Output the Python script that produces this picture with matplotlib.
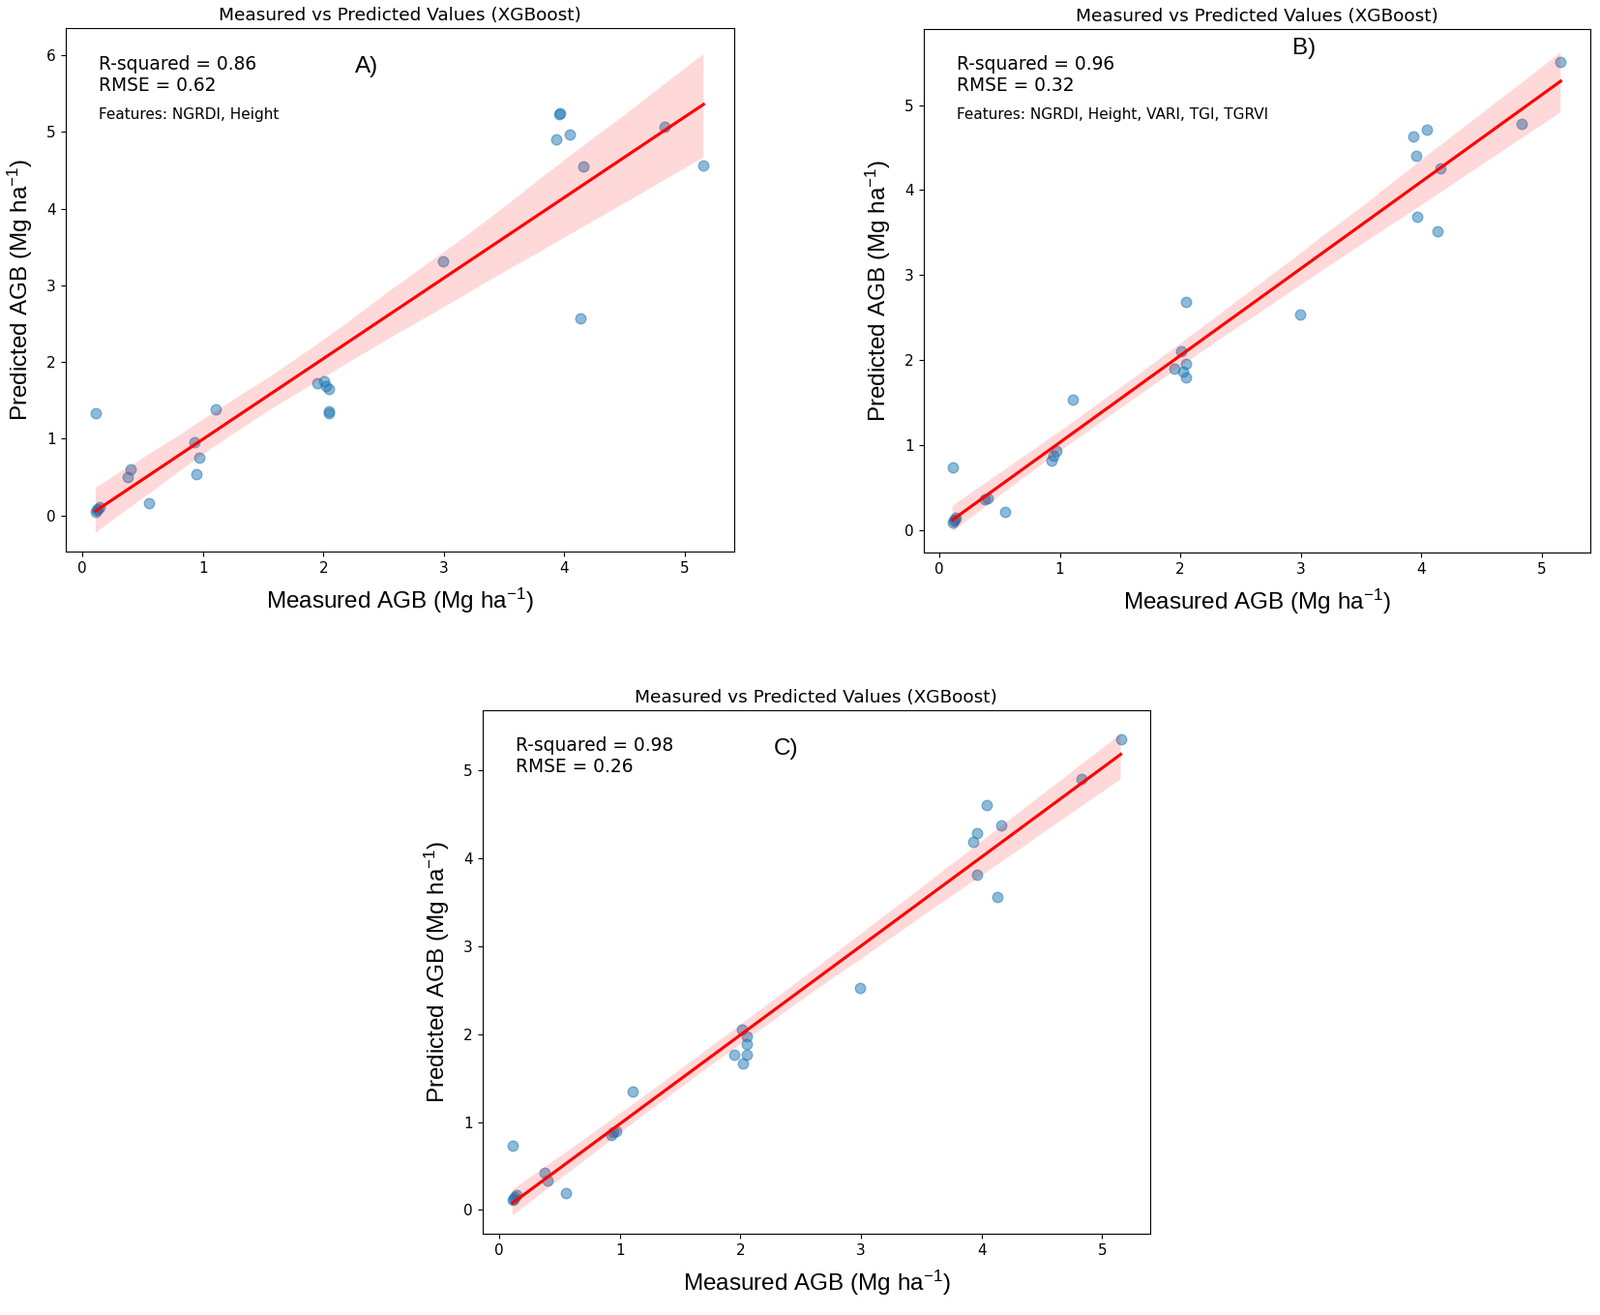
import matplotlib
matplotlib.use("Agg")
import matplotlib.pyplot as plt
import seaborn as sns
import numpy as np

# AGB medido (mesmo conjunto de teste nos tres modelos)
medido = [0.11, 0.11, 0.12, 0.13, 0.14, 0.38, 0.40, 0.55, 0.93, 0.945, 0.97, 1.11,
          1.95, 2.01, 2.02, 2.05, 2.05, 2.05, 2.99, 3.93, 3.96, 3.965, 4.045, 4.13,
          4.16, 4.83, 5.155]

# AGB predito - modelo A (NGRDI, Height)
pred_a = [1.34, 0.05, 0.07, 0.09, 0.11, 0.50, 0.605, 0.155, 0.96, 0.54, 0.75, 1.38,
          1.73, 1.75, 1.69, 1.65, 1.36, 1.33, 3.31, 4.91, 5.23, 5.24, 4.97, 2.57,
          4.55, 5.07, 4.56]

# AGB predito - modelo B (NGRDI, Height, VARI, TGI, TGRVI)
pred_b = [0.74, 0.09, 0.11, 0.13, 0.15, 0.36, 0.38, 0.22, 0.82, 0.88, 0.93, 1.53,
          1.90, 2.10, 1.87, 1.96, 1.80, 2.68, 2.54, 4.63, 4.40, 3.69, 4.71, 3.51,
          4.26, 4.78, 5.51]

# AGB predito - modelo C
pred_c = [0.73, 0.11, 0.13, 0.15, 0.17, 0.42, 0.34, 0.19, 0.85, 0.89, 0.90, 1.35,
          1.77, 2.05, 1.67, 1.98, 1.89, 1.77, 2.52, 4.19, 4.29, 3.81, 4.60, 3.56,
          4.37, 4.90, 5.35]

paineis = ['A)', 'B)', 'C)']
r2 = [0.86, 0.96, 0.98]
rmse = [0.62, 0.32, 0.26]
features = ['Features: NGRDI, Height', 'Features: NGRDI, Height, VARI, TGI, TGRVI', None]

# fontes
plt.rcParams['mathtext.fontset'] = 'custom'
plt.rcParams['mathtext.rm'] = 'Liberation Sans'
plt.rcParams['mathtext.it'] = 'Liberation Sans:italic'
plt.rcParams['xtick.labelsize'] = 11
plt.rcParams['ytick.labelsize'] = 11

fig = plt.figure(figsize=(16.54, 13.59), dpi=100)


def painel(pos, y, r2, rmse, letra, letra_xy, feat, xlim, ylim):
    ax = fig.add_axes(pos)

    # pontos + reta de regressao com intervalo de confianca
    sns.regplot(x=np.array(medido), y=np.array(y), ax=ax, seed=0,
                scatter_kws={'alpha': 0.5, 's': 58},
                line_kws={'color': 'red'})

    ax.set_xlim(xlim)
    ax.set_ylim(ylim)

    ax.set_title('Measured vs Predicted Values (XGBoost)', fontsize=13.3)
    ax.set_xlabel(r'Measured AGB (Mg ha$^{-1}$)', fontsize=17.5,
                  family='Liberation Sans', labelpad=8)
    ax.set_ylabel(r'Predicted AGB (Mg ha$^{-1}$)', fontsize=17.5,
                  family='Liberation Sans', labelpad=9)

    ax.text(0.05, 0.95, f'R-squared = {r2:.2f}\nRMSE = {rmse:.2f}',
            transform=ax.transAxes, fontsize=13.4, va='top', ha='left')
    if feat:
        ax.text(0.05, 0.85, feat, transform=ax.transAxes, fontsize=11,
                va='top', ha='left')
    ax.text(letra_xy[0], letra_xy[1], letra, transform=ax.transAxes,
            fontsize=17.5, family='Liberation Sans', ha='center', va='center')
    return ax


painel([0.0409, 0.5806, 0.418, 0.3977], pred_a, r2[0], rmse[0], paineis[0],
       (0.451, 0.926), features[0], (-0.14, 5.41), (-0.47, 6.35))
painel([0.5772, 0.5800, 0.4167, 0.3977], pred_b, r2[1], rmse[1], paineis[1],
       (0.571, 0.963), features[1], (-0.13, 5.40), (-0.26, 5.89))
painel([0.3015, 0.0618, 0.4174, 0.3979], pred_c, r2[2], rmse[2], paineis[2],
       (0.454, 0.926), features[2], (-0.14, 5.40), (-0.27, 5.68))

fig.savefig('out.png', dpi=100)
